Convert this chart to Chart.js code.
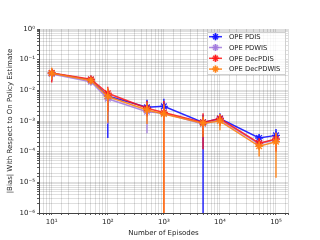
<!DOCTYPE html>
<html>
<head>
<meta charset="utf-8">
<script src="https://cdn.jsdelivr.net/npm/chart.js@4.4.0/dist/chart.umd.min.js"></script>
<style>
  html, body { margin: 0; padding: 0; background: #fff; }
  #wrap { width: 320px; height: 240px; }
</style>
</head>
<body>
<div id="wrap"><canvas id="grafico"></canvas></div>
<script>
// episodes (x)
var episodes = [10, 50, 100, 500, 1000, 5000, 10000, 50000, 100000];

// mean |bias| per estimator
var pdis      = [0.036, 0.022, 0.0065, 0.0028, 0.003, 0.0009, 0.0012, 0.00028, 0.00034];
var pdwis     = [0.034, 0.019, 0.0053, 0.002, 0.0018, 0.0008, 0.0011, 0.00018, 0.00025];
var decPdis   = [0.037, 0.023, 0.008, 0.0026, 0.0019, 0.0009, 0.0012, 0.00019, 0.00026];
var decPdwis  = [0.036, 0.021, 0.0063, 0.0023, 0.0017, 0.00085, 0.001, 0.00015, 0.00021];

// error bar bounds (low / high)
var pdisLo     = [0.021, 0.018, 0.00028, 0.0016, 0.0016, 1e-8, 0.0008, 0.00021, 0.00024];
var pdisHi     = [0.05, 0.027, 0.011, 0.0049, 0.0053, 0.0016, 0.0018, 0.00036, 0.00055];
var pdwisLo    = [0.02, 0.015, 0.0008, 0.0004, 0.0009, 0.0004, 0.0007, 0.00012, 0.00012];
var pdwisHi    = [0.048, 0.025, 0.0095, 0.0035, 0.0035, 0.0013, 0.0015, 0.00025, 0.00038];
var decPdisLo  = [0.018, 0.019, 0.002, 0.0014, 1e-8, 0.00012, 0.0007, 0.00012, 0.0001];
var decPdisHi  = [0.052, 0.028, 0.013, 0.0045, 0.0045, 0.0018, 0.0016, 0.00028, 0.0004];
var decPdwisLo = [0.022, 0.016, 0.00087, 0.0008, 1e-8, 0.0003, 0.0005, 0.00007, 0.000014];
var decPdwisHi = [0.055, 0.026, 0.012, 0.004, 0.0035, 0.0014, 0.0017, 0.00022, 0.00042];

var fuente = '"DejaVu Sans", sans-serif';

var sup = {'-':'\u207b','0':'\u2070','1':'\u00b9','2':'\u00b2','3':'\u00b3','4':'\u2074','5':'\u2075','6':'\u2076','7':'\u2077','8':'\u2078','9':'\u2079'};
function potencia(v) {
  var e = Math.log10(v);
  var r = Math.round(e);
  if (Math.abs(e - r) > 1e-9) return '';
  return '10' + String(r).split('').map(function (c) { return sup[c]; }).join('');
}

function serie(label, data, lo, hi, color, order) {
  return {
    label: label,
    data: episodes.map(function (x, i) { return {x: x, y: data[i]}; }),
    lo: lo, hi: hi,
    borderColor: color,
    backgroundColor: color,
    borderWidth: 1.5,
    pointStyle: 'star',
    pointRadius: 4,
    pointBorderWidth: 1.4,
    tension: 0,
    order: order
  };
}

// barras de error, dibujadas antes de cada serie
var barras = {
  id: 'barras',
  beforeDatasetDraw: function (chart, args) {
    var ds = chart.data.datasets[args.index];
    var xs = chart.scales.x, ys = chart.scales.y, a = chart.chartArea;
    var ctx = chart.ctx;
    ctx.save();
    ctx.beginPath();
    ctx.rect(a.left, a.top, a.right - a.left, a.bottom - a.top);
    ctx.clip();
    ctx.strokeStyle = ds.borderColor;
    ctx.lineWidth = 1.5;
    episodes.forEach(function (x, i) {
      var px = xs.getPixelForValue(x);
      ctx.beginPath();
      ctx.moveTo(px, ys.getPixelForValue(ds.lo[i]));
      ctx.lineTo(px, ys.getPixelForValue(ds.hi[i]));
      ctx.stroke();
    });
    ctx.restore();
  },
  afterDraw: function (chart) {
    // leyenda dentro del area
    var ctx = chart.ctx;
    var bx = 207, by = 32, bw = 78, bh = 42;
    ctx.save();
    ctx.fillStyle = 'rgba(255,255,255,0.8)';
    ctx.strokeStyle = '#d0d0d0';
    ctx.lineWidth = 1;
    ctx.beginPath();
    ctx.rect(bx + 0.5, by + 0.5, bw, bh);
    ctx.fill();
    ctx.stroke();
    ctx.font = '6.8px ' + fuente;
    ctx.textBaseline = 'middle';
    chart.data.datasets.forEach(function (ds, i) {
      var y = 36.7 + i * 10.8;
      ctx.strokeStyle = ds.borderColor;
      ctx.lineWidth = 1.5;
      ctx.beginPath();
      ctx.moveTo(209, y);
      ctx.lineTo(222, y);
      ctx.stroke();
      ctx.beginPath();
      ctx.moveTo(215.5, y - 3.5);
      ctx.lineTo(215.5, y + 3.5);
      ctx.stroke();
      Chart.helpers.drawPoint(ctx, {pointStyle: 'star', radius: 3.5, borderWidth: 1.3}, 215.5, y);
      ctx.fillStyle = '#222';
      ctx.fillText(ds.label, 229, y + 0.5);
    });
    ctx.restore();
  }
};

var rejilla = {
  color: 'rgba(0,0,0,0.16)',
  lineWidth: 0.8,
  drawTicks: true,
  tickLength: 2,
  tickColor: '#333'
};

var ctx = document.getElementById('grafico').getContext('2d');
var grafico = new Chart(ctx, {
  type: 'line',
  data: {
    datasets: [
      serie('OPE PDIS', pdis, pdisLo, pdisHi, 'rgba(20,20,255,0.9)', 3),
      serie('OPE PDWIS', pdwis, pdwisLo, pdwisHi, 'rgba(160,120,220,0.85)', 2),
      serie('OPE DecPDIS', decPdis, decPdisLo, decPdisHi, 'rgba(255,20,20,0.85)', 1),
      serie('OPE DecPDWIS', decPdwis, decPdwisLo, decPdwisHi, 'rgba(255,130,20,0.9)', 0)
    ]
  },
  options: {
    responsive: true,
    maintainAspectRatio: false,
    animation: false,
    devicePixelRatio: 1,
    layout: { padding: { left: 6, top: 29, right: 32, bottom: 3 } },
    plugins: { legend: { display: false }, tooltip: { enabled: false } },
    scales: {
      x: {
        type: 'logarithmic',
        min: 5.93,
        max: 163700,
        grid: rejilla,
        border: { color: '#444', width: 1 },
        ticks: {
          autoSkip: false, maxRotation: 0, padding: 3,
          color: '#222', font: { family: fuente, size: 7 },
          callback: function (v) { return potencia(v); }
        },
        title: { display: true, text: 'Number of Episodes', color: '#222',
                 font: { family: fuente, size: 7 }, padding: { top: 1, bottom: 0 } },
        afterFit: function (s) { s.height = 24; }
      },
      y: {
        type: 'logarithmic',
        min: 1e-6,
        max: 1,
        grid: rejilla,
        border: { color: '#444', width: 1 },
        ticks: {
          autoSkip: false, padding: 2,
          color: '#222', font: { family: fuente, size: 7 },
          callback: function (v) { return potencia(v); }
        },
        title: { display: true, text: '|Bias| With Respect to On Policy Estimate', color: '#222',
                 font: { family: fuente, size: 7 }, padding: { top: 0, bottom: 2 } },
        afterFit: function (s) { s.width = 33; }
      }
    }
  },
  plugins: [barras]
});
</script>
</body>
</html>
